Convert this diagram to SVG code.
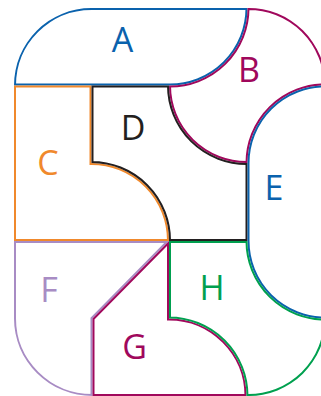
<svg xmlns="http://www.w3.org/2000/svg" xmlns:xlink="http://www.w3.org/1999/xlink" width="321" height="396" viewBox="0 0 321 396">
<style>
.piece{fill:none;stroke-width:4;stroke-linejoin:miter}
.lbl{font-family:"Open Sans","Noto Sans","Liberation Sans",sans-serif;font-size:34px;text-anchor:middle}
.blue{stroke:#0a62ad}.tblue{fill:#0a62ad}
.mag{stroke:#a0085c}.tmag{fill:#a0085c}
.org{stroke:#f0892c}.torg{fill:#f0892c}
.blk{stroke:#231f20}.tblk{fill:#231f20}
.lav{stroke:#a88cc4}.tlav{fill:#a88cc4}
.grn{stroke:#00a04f}.tgrn{fill:#00a04f}
</style>
<defs>
<path id="pA" d="M14,85.5 A77.5,77.5 0 0 1 91.5,8 L247.5,8 A77.5,77.5 0 0 1 169,85.5 Z"/>
<path id="pB" d="M247.5,8 A77.5,77.5 0 0 1 326,85.5 A77.5,77.5 0 0 0 247.5,163 A77.5,77.5 0 0 1 169,85.5 A77.5,77.5 0 0 0 247.5,8 Z"/>
<path id="pC" d="M14,85.5 L91.5,85.5 L91.5,163 A77.5,77.5 0 0 1 169,241 L14,241 Z"/>
<path id="pD" d="M91.5,85.5 L169,85.5 A77.5,77.5 0 0 0 247.5,163 L247.5,241 L169,241 A77.5,77.5 0 0 0 91.5,163 Z"/>
<path id="pE" d="M326,85.5 A77.5,77.5 0 0 0 247.5,163 L247.5,241 A77.5,77.5 0 0 0 326,318.5 Z"/>
<path id="pF" d="M14,241 L169,241 L92.5,318.5 L92.5,396 A78.5,77.5 0 0 1 14,318.5 Z"/>
<path id="pG" d="M169,241 L169,318.5 A77.5,77.5 0 0 1 246.5,396 L92.5,396 L92.5,318.5 Z"/>
<path id="pH" d="M169,241 L247.5,241 A77.5,77.5 0 0 0 326,318.5 A77.5,77.5 0 0 1 247.5,396 L246.5,396 A77.5,77.5 0 0 0 169,318.5 Z"/>
<clipPath id="cA"><use xlink:href="#pA"/></clipPath>
<clipPath id="cB"><use xlink:href="#pB"/></clipPath>
<clipPath id="cC"><use xlink:href="#pC"/></clipPath>
<clipPath id="cD"><use xlink:href="#pD"/></clipPath>
<clipPath id="cE"><use xlink:href="#pE"/></clipPath>
<clipPath id="cF"><use xlink:href="#pF"/></clipPath>
<clipPath id="cG"><use xlink:href="#pG"/></clipPath>
<clipPath id="cH"><use xlink:href="#pH"/></clipPath>
</defs>
<rect width="321" height="396" fill="#ffffff"/>
<g id="A"><use xlink:href="#pA" class="piece blue" clip-path="url(#cA)"/><text class="lbl tblue" x="122.5" y="52">A</text></g>
<g id="B"><use xlink:href="#pB" class="piece mag" clip-path="url(#cB)"/><text class="lbl tmag" x="249" y="82">B</text></g>
<g id="C"><use xlink:href="#pC" class="piece org" clip-path="url(#cC)"/><text class="lbl torg" x="48" y="175">C</text></g>
<g id="D"><use xlink:href="#pD" class="piece blk" clip-path="url(#cD)"/><text class="lbl tblk" x="133" y="140">D</text></g>
<g id="E"><use xlink:href="#pE" class="piece blue" clip-path="url(#cE)"/><text class="lbl tblue" x="274" y="200">E</text></g>
<g id="F"><use xlink:href="#pF" class="piece lav" clip-path="url(#cF)"/><text class="lbl tlav" x="49" y="302">F</text></g>
<g id="G"><use xlink:href="#pG" class="piece mag" clip-path="url(#cG)"/><text class="lbl tmag" x="134.5" y="359">G</text></g>
<g id="H"><use xlink:href="#pH" class="piece grn" clip-path="url(#cH)"/><text class="lbl tgrn" x="212" y="300">H</text></g>
<g id="connectors"/>
</svg>
